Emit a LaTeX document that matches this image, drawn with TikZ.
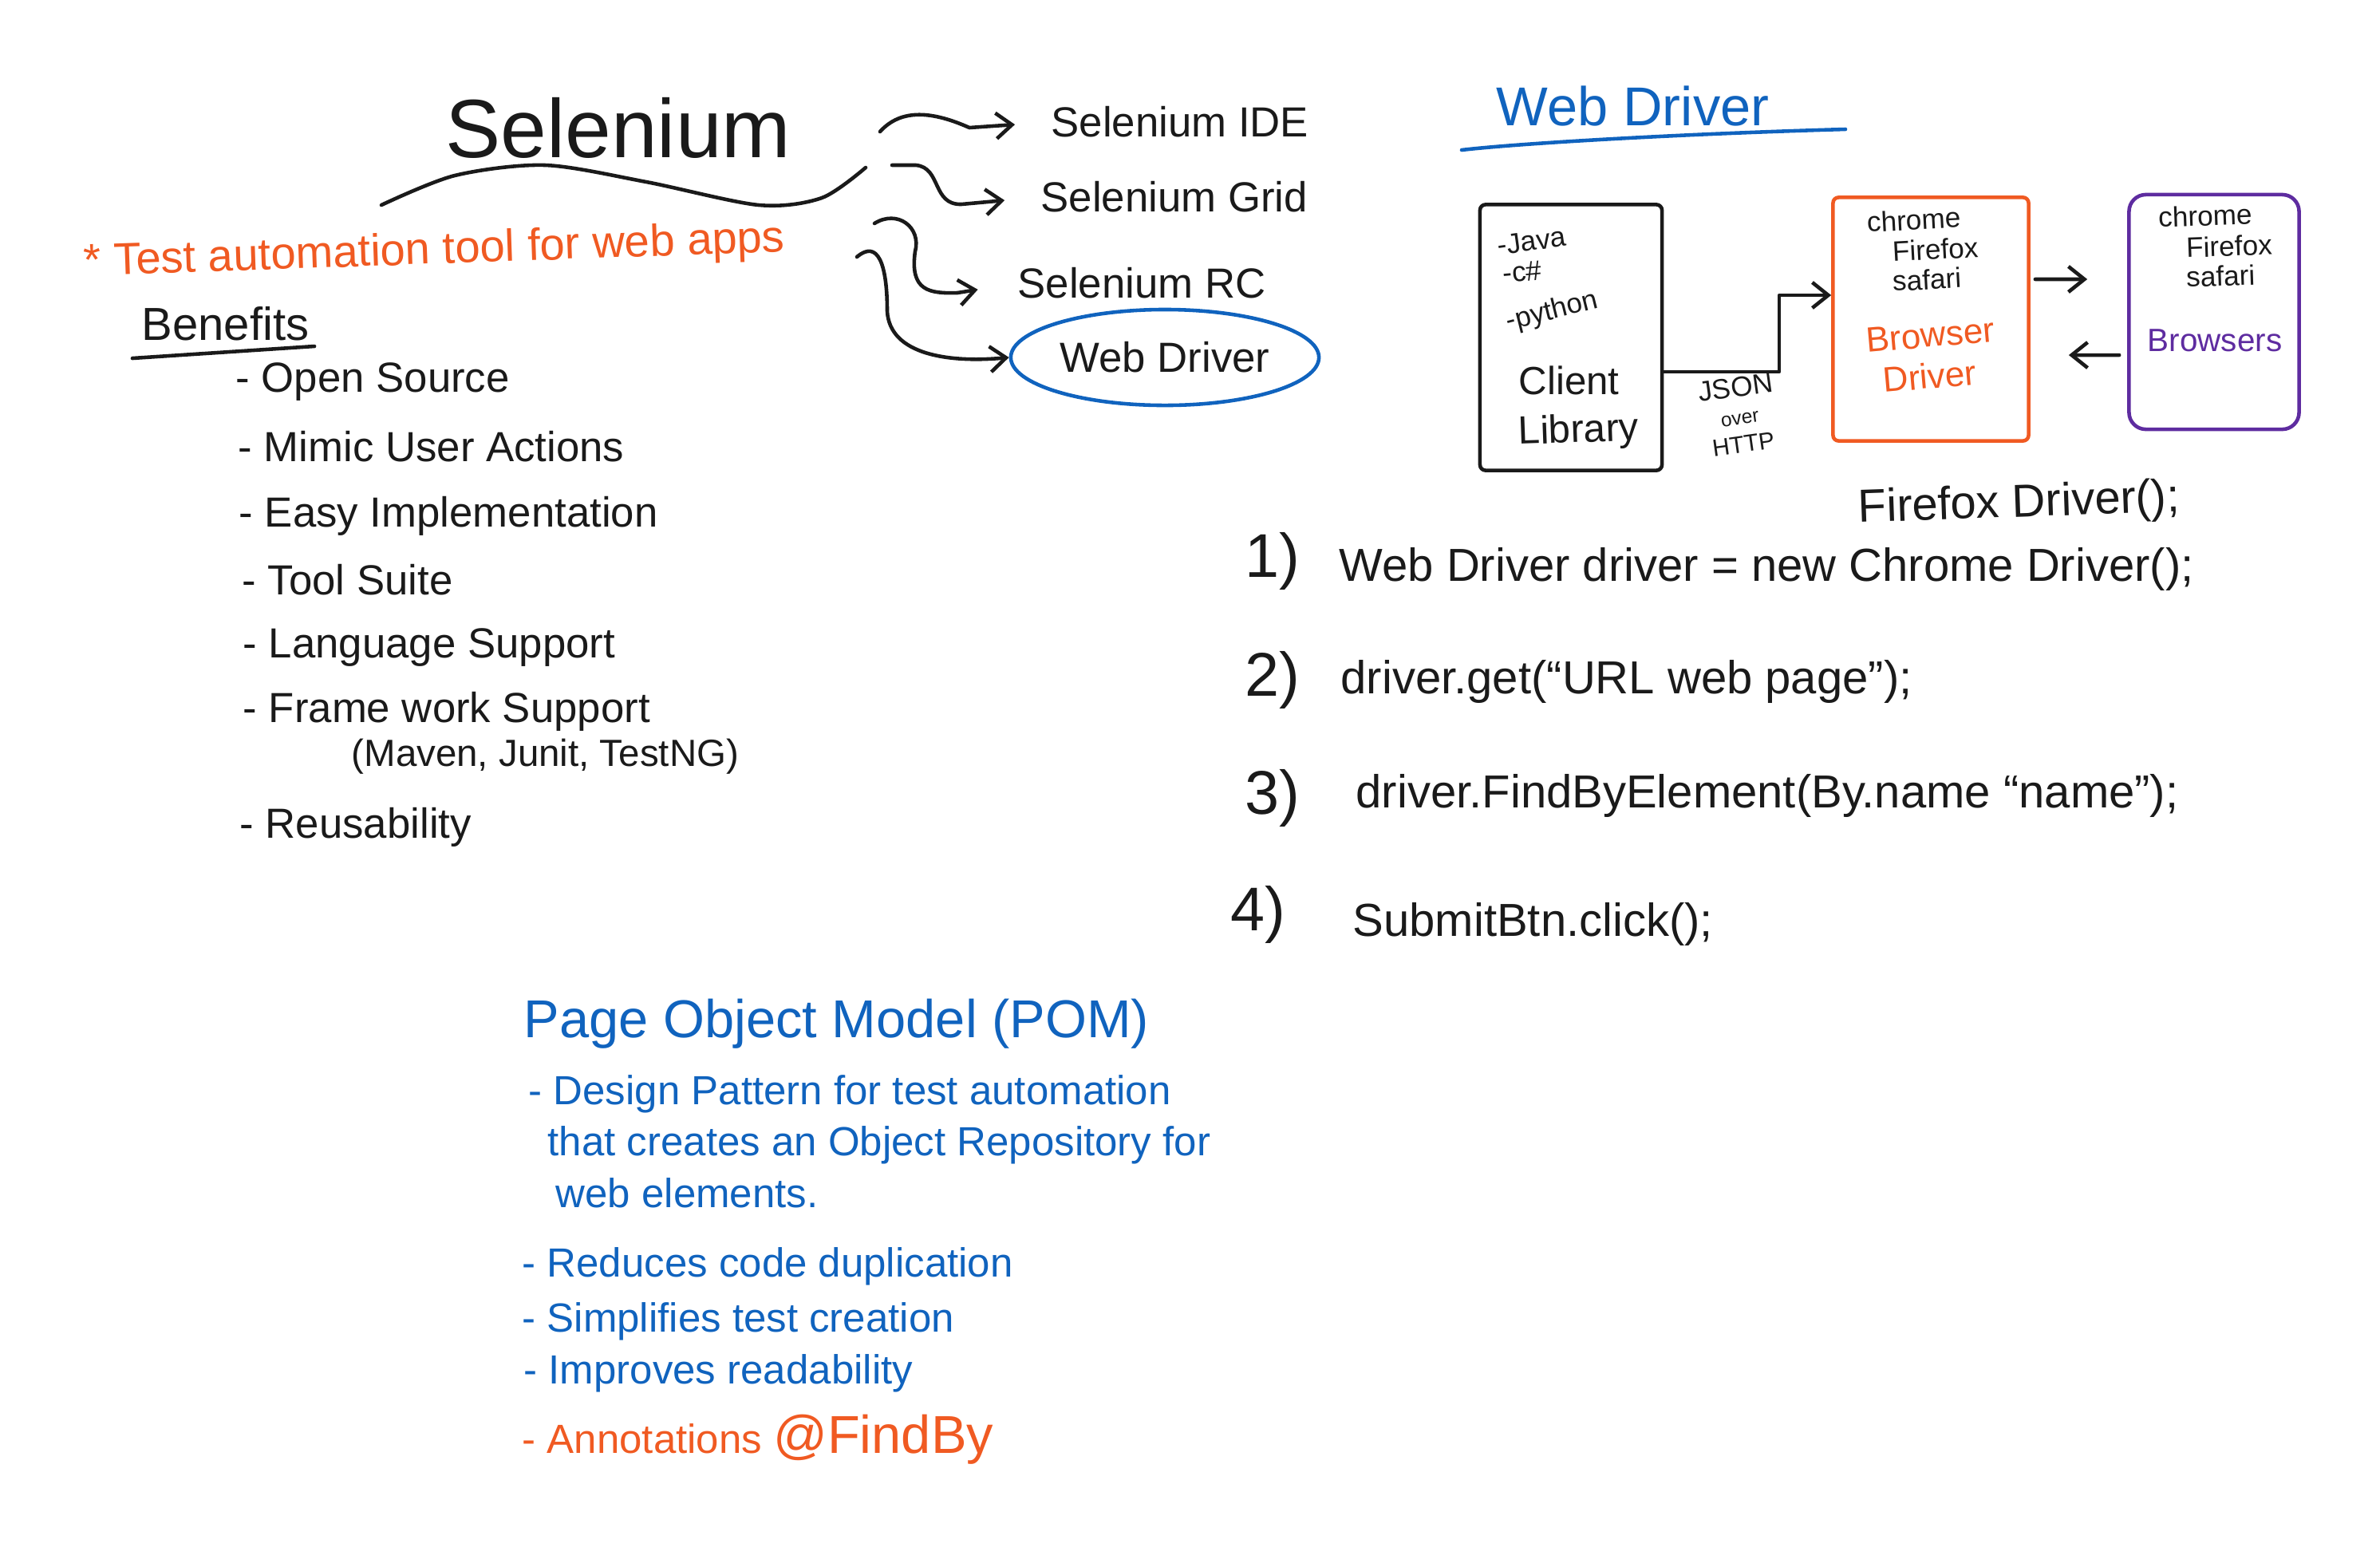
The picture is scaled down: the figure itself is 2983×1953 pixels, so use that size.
\documentclass[tikz,border=0pt]{standalone}
\usepackage{fontspec}
\setmainfont{Liberation Sans}
\usetikzlibrary{arrows.meta,shapes.geometric}
\definecolor{ink}{HTML}{1A1A1A}
\definecolor{penorange}{HTML}{F05A22}
\definecolor{penblue}{HTML}{1063BE}
\definecolor{penpurple}{HTML}{5E2CA0}

\begin{document}
\begin{tikzpicture}[x=0.01cm,y=-0.01cm,line cap=round,line join=round,
    pen/.style={line width=1.3pt,draw=ink},
    tip/.style={-{Straight Barb[length=2mm,width=3.2mm]}},
    hand/.style={font=\fontsize{#1}{#1}\selectfont,inner sep=0pt,text=ink,anchor=base west},
    card/.style={draw=ink,line width=1.3pt,rounded corners=2pt,inner sep=0pt}]
  \useasboundingbox (0,0) rectangle (2983,1953);

  % Selenium and its tools
  \node[hand=29.5pt] (selenium) at (558,197) {Selenium};
  \draw[pen] plot[smooth] coordinates {(478,257) (570,220) (683,207) (810,228) (951,257) (1030,248) (1085,210)};
  \node[hand=15pt,anchor=west] (ide) at (1317,153) {Selenium IDE};
  \node[hand=15pt,anchor=west] (grid) at (1304,247) {Selenium Grid};
  \node[hand=15pt,anchor=west] (rc) at (1275,355) {Selenium RC};
  \node[hand=15pt,anchor=center,ellipse,draw=penblue,line width=1.3pt,
    minimum width=3.86cm,minimum height=1.2cm] (wd) at (1460,448) {Web Driver};
  \coordinate (s1) at (1103,165);
  \coordinate (s2) at (1118,207);
  \coordinate (s3) at (1096,280);
  \coordinate (s4) at (1074,322);
  \draw[pen,tip,shorten >=4.5mm] (s1) .. controls (1130,135) and (1170,140) .. (1215,160) -- (ide.west);
  \draw[pen,tip,shorten >=4.5mm] (s2) -- (1148,207) .. controls (1180,210) and (1168,257) .. (1205,256) -- (grid.west);
  \draw[pen,tip,shorten >=5mm] (s3) .. controls (1125,262) and (1155,285) .. (1147,315)
    .. controls (1140,365) and (1165,368) .. (1200,367) -- (rc.west);
  \draw[pen,tip] (s4) .. controls (1100,300) and (1112,330) .. (1112,390)
    .. controls (1115,445) and (1190,455) .. (wd.west);

  \node[hand=16pt,text=penorange,rotate=2] (tagline) at (105,346) {* Test automation tool for web apps};

  % benefits
  \node[hand=16.5pt] (benefits) at (177,426) {Benefits};
  \draw[pen] ([xshift=-1.1mm,yshift=-2.3mm]benefits.base west) -- ([xshift=0.6mm,yshift=-0.8mm]benefits.base east);
  \node[hand=15pt] (open) at (295,491) {- Open Source};
  \node[hand=15pt] (mimic) at (298,578) {- Mimic User Actions};
  \node[hand=15pt] (easy) at (299,660) {- Easy Implementation};
  \node[hand=15pt] (suite) at (303,745) {- Tool Suite};
  \node[hand=15pt] (lang) at (304,824) {- Language Support};
  \node[hand=15pt] (frame) at (304,905) {- Frame work Support};
  \node[hand=13.5pt] (frames) at (440,960) {(Maven, Junit, TestNG)};
  \node[hand=15pt] (reuse) at (300,1050) {- Reusability};

  % page object model
  \node[hand=19pt,text=penblue] (pom) at (656,1300) {Page Object Model (POM)};
  \node[hand=14.5pt,text=penblue] (design) at (662,1384) {- Design Pattern for test automation};
  \node[hand=14.5pt,text=penblue] (repo) at (686,1448) {that creates an Object Repository for};
  \node[hand=14.5pt,text=penblue] (elems) at (696,1513) {web elements.};
  \node[hand=14.5pt,text=penblue] (reduce) at (654,1600) {- Reduces code duplication};
  \node[hand=14.5pt,text=penblue] (simple) at (654,1669) {- Simplifies test creation};
  \node[hand=14.5pt,text=penblue] (improve) at (656,1734) {- Improves readability};
  \node[hand=14.5pt,text=penorange] (annot) at (654,1821) {- Annotations {\fontsize{19pt}{19pt}\selectfont @FindBy}};

  % web driver
  \node[hand=19.5pt,text=penblue] (wdtitle) at (1875,157) {Web Driver};
  \draw[line width=1.3pt,draw=penblue] (1832,188) .. controls (1900,180) and (2100,168) .. (2313,162);

  \node[card,minimum width=2.28cm,minimum height=3.33cm] (client) at (1969,423) {};
  \node[card,draw=penorange,minimum width=2.45cm,minimum height=3.05cm] (bdriver) at (2420,400) {};
  \node[card,draw=penpurple,rounded corners=6pt,minimum width=2.13cm,minimum height=2.94cm] (browsers) at (2775,391) {};

  \node[hand=10pt,rotate=8] (java) at (1878,320) {-Java};
  \node[hand=10pt,rotate=5] (csharp) at (1884,355) {-c\#};
  \node[hand=10pt,rotate=14] (python) at (1890,414) {-python};
  \node[hand=14pt] (clienttxt) at (1903,494) {Client};
  \node[hand=14pt,rotate=2] (librarytxt) at (1903,557) {Library};

  \node[hand=10pt,rotate=3] (bdchrome) at (2340,291) {chrome};
  \node[hand=10pt,rotate=3] (bdfirefox) at (2372,328) {Firefox};
  \node[hand=10pt,rotate=3] (bdsafari) at (2372,365) {safari};
  \node[hand=12.5pt,text=penorange,rotate=5] (bdname) at (2340,442) {Browser};
  \node[hand=12.5pt,text=penorange,rotate=5] (bdname2) at (2361,492) {Driver};

  \node[hand=10pt,rotate=2] (brchrome) at (2705,285) {chrome};
  \node[hand=10pt,rotate=2] (brfirefox) at (2740,323) {Firefox};
  \node[hand=10pt,rotate=2] (brsafari) at (2740,360) {safari};
  \node[hand=11.5pt,text=penpurple] (brname) at (2691,440) {Browsers};

  \coordinate (jbend) at (2230,466);
  \draw[pen,tip] (client.east |- jbend) -- (jbend) |- ([yshift=3mm]bdriver.west);
  \node[hand=10pt,anchor=center,align=center,rotate=8] (json) at (2180,520)
    {JSON\\{\fontsize{7pt}{7pt}\selectfont over}\\{\fontsize{8.5pt}{8.5pt}\selectfont HTTP}};
  \draw[pen,tip,shorten <=0.6mm,shorten >=5mm] ([yshift=5mm]bdriver.east) -- ([yshift=4.1mm]browsers.west);
  \draw[pen,tip,shorten <=1mm,shorten >=4.8mm] ([yshift=-5.4mm]browsers.west) -- ([yshift=-4.5mm]bdriver.east);

  % code steps
  \node[hand=22pt,anchor=east] (n1) at (1630,703) {1)};
  \node[hand=16.5pt] (line1) at (1678,728) {Web Driver driver = new Chrome Driver();};
  \node[hand=16.5pt,rotate=2] (alt1) at (2329,655) {Firefox Driver();};
  \node[hand=22pt,anchor=east] (n2) at (1630,852) {2)};
  \node[hand=16.5pt] (line2) at (1680,869) {driver.get(“URL web page”);};
  \node[hand=22pt,anchor=east] (n3) at (1630,1000) {3)};
  \node[hand=16.5pt] (line3) at (1699,1012) {driver.FindByElement(By.name “name”);};
  \node[hand=22pt,anchor=east] (n4) at (1612,1146) {4)};
  \node[hand=16.5pt] (line4) at (1695,1173) {SubmitBtn.click();};
\end{tikzpicture}
\end{document}
